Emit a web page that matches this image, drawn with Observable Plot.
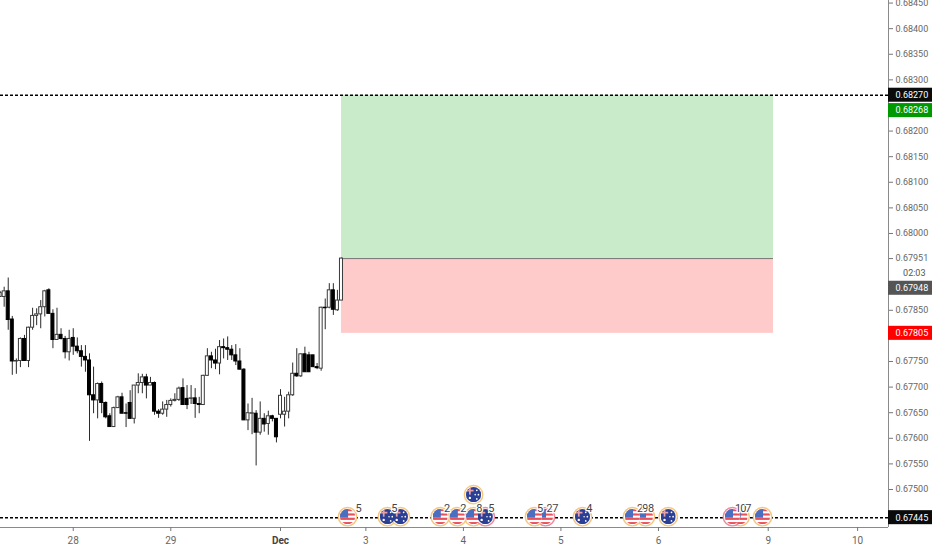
<!DOCTYPE html>
<html><head><meta charset="utf-8">
<script src="https://cdn.jsdelivr.net/npm/d3@7"></script>
<script src="https://cdn.jsdelivr.net/npm/@observablehq/plot@0.6"></script>
<style>html,body{margin:0;padding:0;background:#fff}svg{display:block}</style>
</head><body><div id="chart"></div>
<script>
const opens=[0.67876,0.67876,0.67887,0.67832,0.67750,0.67751,0.67794,0.67751,0.67816,0.67839,0.67842,0.67856,0.67889,0.67843,0.67792,0.67802,0.67794,0.67768,0.67796,0.67779,0.67770,0.67759,0.67752,0.67684,0.67674,0.67706,0.67669,0.67643,0.67622,0.67659,0.67680,0.67649,0.67669,0.67638,0.67703,0.67708,0.67719,0.67703,0.67708,0.67652,0.67648,0.67656,0.67665,0.67673,0.67675,0.67698,0.67677,0.67677,0.67678,0.67667,0.67665,0.67722,0.67760,0.67752,0.67746,0.67778,0.67776,0.67773,0.67762,0.67750,0.67734,0.67635,0.67648,0.67648,0.67611,0.67638,0.67628,0.67643,0.67638,0.67646,0.67646,0.67652,0.67684,0.67726,0.67721,0.67764,0.67762,0.67762,0.67739,0.67736,0.67855,0.67855,0.67889,0.67850,0.67869];
const highs=[0.67887,0.67895,0.67913,0.67838,0.67755,0.67796,0.67801,0.67817,0.67854,0.67853,0.67869,0.67889,0.67892,0.67851,0.67854,0.67814,0.67799,0.67811,0.67814,0.67796,0.67781,0.67781,0.67765,0.67739,0.67708,0.67710,0.67671,0.67648,0.67661,0.67682,0.67688,0.67667,0.67693,0.67703,0.67726,0.67725,0.67725,0.67719,0.67710,0.67656,0.67671,0.67674,0.67677,0.67687,0.67700,0.67716,0.67703,0.67703,0.67697,0.67680,0.67723,0.67775,0.67768,0.67774,0.67791,0.67794,0.67798,0.67781,0.67783,0.67775,0.67736,0.67667,0.67678,0.67654,0.67671,0.67648,0.67653,0.67645,0.67638,0.67695,0.67680,0.67690,0.67747,0.67775,0.67765,0.67778,0.67768,0.67762,0.67746,0.67856,0.67872,0.67902,0.67902,0.67889,0.67952];
const lows=[0.67876,0.67856,0.67811,0.67723,0.67725,0.67738,0.67751,0.67738,0.67811,0.67820,0.67814,0.67837,0.67843,0.67775,0.67792,0.67792,0.67755,0.67751,0.67762,0.67765,0.67739,0.67729,0.67594,0.67648,0.67638,0.67648,0.67638,0.67622,0.67621,0.67659,0.67648,0.67621,0.67638,0.67628,0.67687,0.67687,0.67677,0.67703,0.67645,0.67639,0.67645,0.67641,0.67661,0.67671,0.67672,0.67664,0.67656,0.67666,0.67639,0.67648,0.67664,0.67721,0.67736,0.67734,0.67724,0.67755,0.67752,0.67752,0.67742,0.67734,0.67635,0.67615,0.67607,0.67546,0.67606,0.67612,0.67606,0.67632,0.67591,0.67638,0.67622,0.67638,0.67682,0.67719,0.67719,0.67729,0.67729,0.67738,0.67734,0.67731,0.67812,0.67853,0.67840,0.67848,0.67869];
const closes=[0.67884,0.67887,0.67831,0.67750,0.67751,0.67794,0.67751,0.67816,0.67839,0.67842,0.67856,0.67887,0.67843,0.67792,0.67802,0.67794,0.67768,0.67794,0.67779,0.67770,0.67759,0.67752,0.67684,0.67674,0.67706,0.67669,0.67641,0.67622,0.67659,0.67680,0.67648,0.67648,0.67638,0.67703,0.67708,0.67719,0.67703,0.67708,0.67652,0.67648,0.67656,0.67665,0.67673,0.67675,0.67697,0.67665,0.67665,0.67678,0.67667,0.67665,0.67722,0.67760,0.67752,0.67746,0.67778,0.67776,0.67773,0.67762,0.67750,0.67734,0.67635,0.67649,0.67649,0.67611,0.67638,0.67627,0.67643,0.67638,0.67602,0.67683,0.67652,0.67684,0.67726,0.67721,0.67764,0.67729,0.67729,0.67739,0.67737,0.67855,0.67854,0.67889,0.67851,0.67869,0.67951];

const dayBars=[18,42,90,114,138,162,189,211];
const dayLabels=["28","29","3","4","5","6","9","10"];
const monthBar=69, monthLabel="Dec";
const priceTicks=[0.6845,0.684,0.6835,0.683,0.682,0.6815,0.681,0.6805,0.68,0.67951,0.6785,0.6775,0.677,0.6765,0.676,0.6755,0.675];

const levelTop=0.6827, levelEntry=0.67951, levelStop=0.67805, levelLow=0.67445;
const zoneStart=84, zoneEnd=190.3;

const tagSlot=[0.6827,0.6824,0.67893,0.67805,0.67445];
const tagText=["0.68270","0.68268","0.67948","0.67805","0.67445"];
const tagFill=["#0b0b0b","#009900","#555555","#ff0000","#0b0b0b"];
const countdown="02:03", countdownSlot=0.67922;

const eventBars=[116.5,112.5,108.3,119.4,85.5,95.3,98.5,134.2,131.5,143.3,158.8,155.6,164.4,182.1,180.2,187.6,116.5];
const eventLevels=[0.67447,0.67447,0.67447,0.67447,0.67447,0.67447,0.67447,0.67447,0.67447,0.67447,0.67447,0.67447,0.67447,0.67447,0.67447,0.67447,0.6749];
const eventFlags=["US","US","US","AU","US","AU","AU","US","US","AU","US","US","AU","US","US","US","AU"];
const eventRings=["#f6c67c","#f6c67c","#f6c67c","#ef8a9b","#f6c67c","#f6c67c","#f6c67c","#ef8a9b","#f6c67c","#f6c67c","#f6c67c","#f6c67c","#f6c67c","#f6c67c","#ef8a9b","#f6c67c","#f6c67c"];
const countBars=[88.2,97,110,114,117.9,120.9,132.9,135.2,136.6,145,157.5,158.8,160.2,181.6,182.9,184.1];
const countTexts=["5","5","2","2","8","5","5","2","7","4","2","9","8","1","0","7"];
const countLevel=0.67462;

const usFlag="data:image/svg+xml,"+encodeURIComponent('<svg xmlns="http://www.w3.org/2000/svg" viewBox="0 0 14 14"><rect width="14" height="14" fill="#fff"/><g fill="#e8505b"><rect y="0" width="14" height="2"/><rect y="4" width="14" height="2"/><rect y="8" width="14" height="2"/><rect y="12" width="14" height="2"/></g><rect width="7.5" height="8" fill="#4a6fc0"/></svg>');
const auFlag="data:image/svg+xml,"+encodeURIComponent('<svg xmlns="http://www.w3.org/2000/svg" viewBox="0 0 14 14"><rect width="14" height="14" fill="#2b3f95"/><rect y="2.5" width="7" height="1.6" fill="#e8a0a8"/><rect x="2.8" width="1.6" height="7" fill="#e8a0a8"/><g fill="#fff"><circle cx="3.6" cy="10" r="1.1"/><circle cx="10" cy="3" r=".8"/><circle cx="11.5" cy="7" r=".8"/><circle cx="8.5" cy="7" r=".7"/><circle cx="10" cy="11" r=".8"/></g></svg>');

const bars=opens.map((o,i)=>({i,o,h:highs[i],l:lows[i],c:closes[i],up:closes[i]>=o}));
const events=eventBars.map((x,i)=>({x,y:eventLevels[i],flag:eventFlags[i],ring:eventRings[i]}));
const counts=countBars.map((x,i)=>({x,t:countTexts[i]}));
const tags=tagSlot.map((y,i)=>({y,t:tagText[i],f:tagFill[i]}));

const xEnd=218.6, xTagEnd=229.5, yMin=0.674258, yMax=0.68455, half=0.000137;
const labelFont="Roboto, Arial, sans-serif";

const chart=Plot.plot({
  width:932,height:550,marginTop:0,marginLeft:0,marginRight:44,marginBottom:23,
  style:{background:"#fff",overflow:"visible",fontFamily:labelFont},
  x:{domain:[0.1,xEnd],range:[0,888]},
  y:{domain:[yMin,yMax],range:[527,0]},
  marks:[
    Plot.rect([0],{x1:zoneStart,x2:zoneEnd,y1:levelEntry,y2:levelTop,fill:"#c9ebc9"}),
    Plot.rect([0],{x1:zoneStart,x2:zoneEnd,y1:levelStop,y2:levelEntry,fill:"#ffcaca"}),
    Plot.ruleY([levelEntry],{x1:zoneStart,x2:zoneEnd,stroke:"#777",strokeWidth:1}),
    Plot.ruleX(bars,{x:"i",y1:"l",y2:"h",stroke:"#2a2a2a",strokeWidth:1}),
    Plot.rect(bars,{x1:d=>d.i-0.37,x2:d=>d.i+0.37,y1:"o",y2:"c",fill:d=>d.up?"#fff":"#000",stroke:d=>d.up?"#3a3a3a":"#000",strokeWidth:1}),
    Plot.ruleY([levelTop,levelLow],{x1:0.1,x2:xEnd,stroke:"#000",strokeWidth:1.5,strokeDasharray:"3,2"}),
    Plot.dot(events,{x:"x",y:"y",r:9.2,fill:"#fff",stroke:"ring",strokeWidth:1.4}),
    Plot.image(events,{x:"x",y:"y",src:d=>d.flag==="US"?usFlag:auFlag,r:7.6,preserveAspectRatio:"xMidYMid slice"}),
    Plot.text(counts,{x:"x",y:countLevel,text:"t",fontSize:11,fill:"#444",stroke:"#fff",strokeWidth:2.5,paintOrder:"stroke"}),
    Plot.ruleX([xEnd],{y1:yMin,y2:yMax,stroke:"#8a8a8a",strokeWidth:1}),
    Plot.ruleY([yMin],{x1:0.1,x2:xEnd,stroke:"#8a8a8a",strokeWidth:1}),
    Plot.axisY({anchor:"right",ticks:priceTicks,tickSize:4,tickPadding:3,tickFormat:d3.format(".5f"),label:null,fontSize:9,color:"#666",stroke:"#777"}),
    Plot.axisX({anchor:"bottom",ticks:dayBars,tickSize:4,tickPadding:5,tickFormat:d=>dayLabels[dayBars.indexOf(d)],label:null,fontSize:10,color:"#666",stroke:"#777"}),
    Plot.axisX({anchor:"bottom",ticks:[monthBar],tickSize:4,tickPadding:5,tickFormat:()=>monthLabel,label:null,fontSize:10,fontWeight:"bold",color:"#444",stroke:"#777"}),
    Plot.rect(tags,{x1:xEnd,x2:xTagEnd,y1:d=>d.y-half,y2:d=>d.y+half,fill:"f"}),
    Plot.text(tags,{x:xEnd,dx:7,y:"y",text:"t",fill:"#fff",fontSize:9,textAnchor:"start"}),
    Plot.text([countdown],{x:xEnd,dx:37,y:countdownSlot,text:d=>d,fill:"#555",fontSize:9,textAnchor:"end"})
  ]
});
document.getElementById("chart").append(chart);
</script>
</body></html>
